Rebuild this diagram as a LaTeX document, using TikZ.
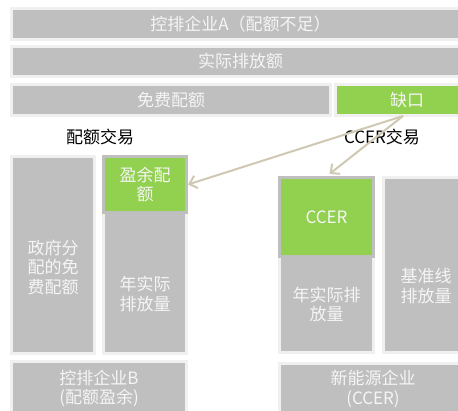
\documentclass[tikz,border=0pt]{standalone}
\usepackage{fontspec}
\setmainfont{Noto Sans CJK SC}
\usetikzlibrary{arrows.meta,calc}
\definecolor{boxgray}{HTML}{BFBFBF}
\definecolor{edgelight}{HTML}{F0F0F0}
\definecolor{leaf}{HTML}{92D050}
\definecolor{txtlight}{HTML}{F5F5F5}
\definecolor{arrowtan}{HTML}{CFC8B2}
\begin{document}
\begin{tikzpicture}[x=1pt,y=-1pt,
 box/.style={rectangle, fill=boxgray, draw=edgelight, line width=3pt, inner sep=0pt, text=txtlight, font=\fontsize{17}{19.5}\selectfont, align=center},
 greenbox/.style={box, fill=leaf, draw=boxgray},
 greenlight/.style={box, fill=leaf, draw=edgelight},
 intext/.style={text=txtlight, font=\fontsize{17}{19.5}\selectfont, align=center, inner sep=0pt},
 caption/.style={text=black, font=\fontsize{17}{19.5}\selectfont, inner sep=0pt},
 trade/.style={draw=arrowtan, line width=2pt, -{Straight Barb[length=7pt,width=13pt]}}
]
\useasboundingbox (0,0) rectangle (458,411);
\clip (0,0) rectangle (458,411);
\fill[white] (0,0) rectangle (458,411);
% company A rows
\node[box, minimum width=458pt, minimum height=31pt] (topA) at (240.5,24) {控排企业A（配额不足）};
\node[box, minimum width=458pt, minimum height=30pt] (actual) at (240.5,61.5) {实际排放额};
\node[box, minimum width=319pt, minimum height=31pt] (free) at (171,100) {免费配额};
\node[greenlight, minimum width=143pt, minimum height=31pt] (gap) at (407,100) {缺口};
% company B
\node[box, minimum width=83pt, minimum height=197pt] (gov) at (53,255) {};
\node[intext] (govt) at (53,267) {政府分\\配的免\\费配额};
\node[box, minimum width=83pt, minimum height=141pt] (actB) at (145,283) {};
\node[intext] (actBt) at (145,294) {年实际\\排放量};
\node[greenbox, minimum width=83pt, minimum height=56pt] (surplus) at (145,184.5) {盈余配\\额};
\node[box, minimum width=175pt, minimum height=54pt] (B) at (99,388.5) {控排企业B\\(配额盈余)};
% new energy company
\node[box, minimum width=94pt, minimum height=96pt] (actR) at (326.5,304.5) {年实际排\\放量};
\node[greenbox, minimum width=94pt, minimum height=79pt] (ccer) at (326.5,217) {CCER};
\node[box, minimum width=85pt, minimum height=175pt] (base) at (426,265) {};
\node[intext] (baset) at (426,286) {基准线\\排放量};
\node[box, minimum width=187pt, minimum height=51pt] (newE) at (373,389) {新能源企业\\(CCER)};
% captions
\node[caption] (quota) at (100,137) {配额交易};
\node[caption] (ccertrade) at (382,137) {CCER交易};
% connectors
\coordinate (src) at (403,116);
\draw[trade] (src) -- (surplus.east);
\draw[trade] (src) -- ($(ccer.north)+(3,-2)$);
\end{tikzpicture}
\end{document}
